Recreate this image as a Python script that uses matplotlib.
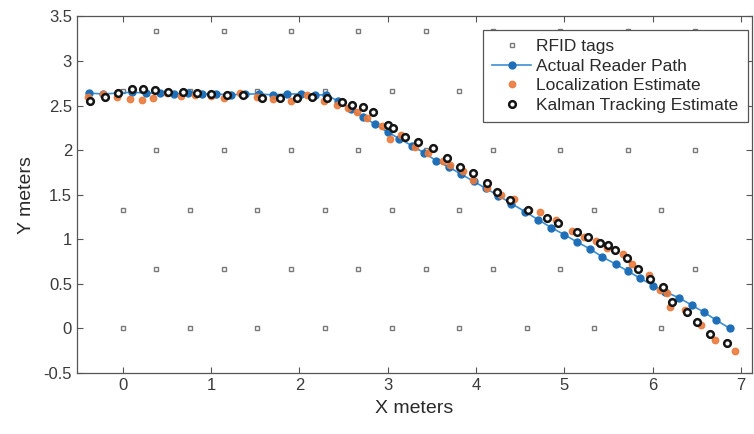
import numpy as np
import matplotlib
matplotlib.use('Agg')
from matplotlib import pyplot as plt

plt.rcParams['font.family'] = ['Liberation Sans', 'DejaVu Sans']

# RFID tag grid (rows alternate between two column sets)
tag_rows_y = [0.0, 0.667, 1.333, 2.0, 2.667, 3.333]
tag_cols_even = [0.0, 0.762, 1.524, 2.286, 3.048, 3.81, 4.572, 5.334, 6.096]
tag_cols_odd = [0.381, 1.143, 1.905, 2.667, 3.429, 4.191, 4.953, 5.715, 6.477]

# actual reader path
path_x = [-0.38, -0.22, -0.06, 0.10, 0.26, 0.42, 0.58, 0.74, 0.90, 1.06, 1.22, 1.38,
          1.54, 1.70, 1.86, 2.02, 2.18, 2.30, 2.44, 2.58, 2.72, 2.86, 3.00, 3.13,
          3.27, 3.41, 3.55, 3.69, 3.83, 3.97, 4.11, 4.25, 4.40, 4.55, 4.70, 4.85,
          5.00, 5.14, 5.29, 5.43, 5.58, 5.72, 5.86, 6.00, 6.14, 6.30, 6.44, 6.58,
          6.72, 6.87]
path_y = [2.64, 2.63, 2.64, 2.65, 2.64, 2.64, 2.63, 2.64, 2.63, 2.63, 2.62, 2.63,
          2.63, 2.62, 2.63, 2.63, 2.62, 2.62, 2.55, 2.46, 2.37, 2.29, 2.20, 2.13,
          2.05, 1.97, 1.88, 1.81, 1.73, 1.65, 1.57, 1.49, 1.40, 1.31, 1.22, 1.13,
          1.05, 0.97, 0.89, 0.80, 0.72, 0.64, 0.56, 0.48, 0.41, 0.34, 0.26, 0.18,
          0.09, 0.00]

# localization estimate
loc_x = [-0.40, -0.22, -0.07, 0.08, 0.22, 0.34, 0.50, 0.66, 0.82, 1.00, 1.15, 1.33,
         1.52, 1.70, 1.90, 2.08, 2.28, 2.42, 2.55, 2.65, 2.76, 2.93, 3.02, 3.15,
         3.31, 3.46, 3.62, 3.70, 3.85, 3.96, 4.12, 4.28, 4.43, 4.60, 4.72, 4.90,
         5.08, 5.22, 5.36, 5.48, 5.66, 5.76, 5.96, 6.08, 6.16, 6.20, 6.36, 6.55,
         6.70, 6.93]
loc_y = [2.60, 2.63, 2.60, 2.57, 2.56, 2.58, 2.64, 2.61, 2.62, 2.61, 2.59, 2.64,
         2.60, 2.57, 2.55, 2.62, 2.55, 2.51, 2.47, 2.43, 2.36, 2.27, 2.13, 2.17,
         2.03, 1.97, 1.88, 1.83, 1.76, 1.67, 1.58, 1.50, 1.45, 1.33, 1.30, 1.22,
         1.09, 1.03, 0.98, 0.90, 0.83, 0.72, 0.60, 0.43, 0.40, 0.24, 0.20, 0.04,
         -0.13, -0.25]

# kalman tracking estimate
kal_x = [-0.37, -0.20, -0.06, 0.10, 0.23, 0.36, 0.51, 0.68, 0.84, 1.00, 1.18, 1.36,
         1.57, 1.78, 1.97, 2.14, 2.31, 2.48, 2.59, 2.72, 2.83, 3.00, 3.06, 3.19,
         3.34, 3.51, 3.67, 3.82, 3.96, 4.12, 4.24, 4.38, 4.59, 4.80, 4.93, 5.14,
         5.27, 5.40, 5.49, 5.57, 5.71, 5.83, 5.97, 6.11, 6.22, 6.39, 6.50, 6.65,
         6.84]
kal_y = [2.55, 2.60, 2.64, 2.69, 2.69, 2.67, 2.65, 2.65, 2.64, 2.63, 2.62, 2.62,
         2.58, 2.58, 2.58, 2.60, 2.58, 2.54, 2.51, 2.48, 2.43, 2.28, 2.25, 2.15,
         2.09, 2.02, 1.91, 1.81, 1.74, 1.63, 1.53, 1.44, 1.33, 1.24, 1.18, 1.08,
         1.02, 0.96, 0.93, 0.88, 0.79, 0.67, 0.55, 0.46, 0.29, 0.18, 0.07, -0.06,
         -0.17]

fig = plt.figure(figsize=(7.54, 4.34), dpi=100)
ax = fig.add_axes([0.102, 0.141, 0.895, 0.821])

tx, ty = [], []
for i, yy in enumerate(tag_rows_y):
    cols = tag_cols_even if i % 2 == 0 else tag_cols_odd
    for xx in cols:
        tx.append(xx)
        ty.append(yy)

ax.plot(tx, ty, ls='none', marker='s', ms=3.2, mfc='white', mec='#7a7a7a',
        mew=1.0, label='RFID tags', zorder=2)
ax.plot(path_x, path_y, '-', color='#3d8fd1', lw=1.2, marker='o', ms=5,
        mfc='#1f6fb8', mec='#1f6fb8', label='Actual Reader Path', zorder=3)
ax.plot(loc_x, loc_y, ls='none', marker='o', ms=4.6, mfc='#ea7a3c', mec='#ea7a3c',
        alpha=0.9, label='Localization Estimate', zorder=4)
ax.plot(kal_x, kal_y, ls='none', marker='o', ms=4.8, mfc='white', mec='#141414',
        mew=1.8, label='Kalman Tracking Estimate', zorder=5)

ax.set_xlim(-0.52, 7.12)
ax.set_ylim(-0.5, 3.5)
ax.set_xticks([0, 1, 2, 3, 4, 5, 6, 7])
ax.set_yticks([-0.5, 0, 0.5, 1, 1.5, 2, 2.5, 3, 3.5])
ax.set_yticklabels(['-0.5', '0', '0.5', '1', '1.5', '2', '2.5', '3', '3.5'])
ax.tick_params(direction='in', top=True, right=True, length=4, width=0.8,
               color='#555555', labelsize=12, labelcolor='#3a3a3a')
for s in ax.spines.values():
    s.set_color('#555555')
    s.set_linewidth(0.9)

ax.set_xlabel('X meters', fontsize=14, color='#2a2a2a', labelpad=5)
ax.set_ylabel('Y meters', fontsize=14, color='#2a2a2a', labelpad=6)

leg = ax.legend(loc='upper right', fontsize=12.5, frameon=True, fancybox=False,
                edgecolor='#555555', framealpha=1, handlelength=2.2,
                handletextpad=0.3, labelspacing=0.25, borderpad=0.55,
                borderaxespad=0, bbox_to_anchor=(0.994, 0.963))
leg.get_frame().set_linewidth(0.9)
for t in leg.get_texts():
    t.set_color('#2a2a2a')

fig.savefig('out.png', dpi=100)
